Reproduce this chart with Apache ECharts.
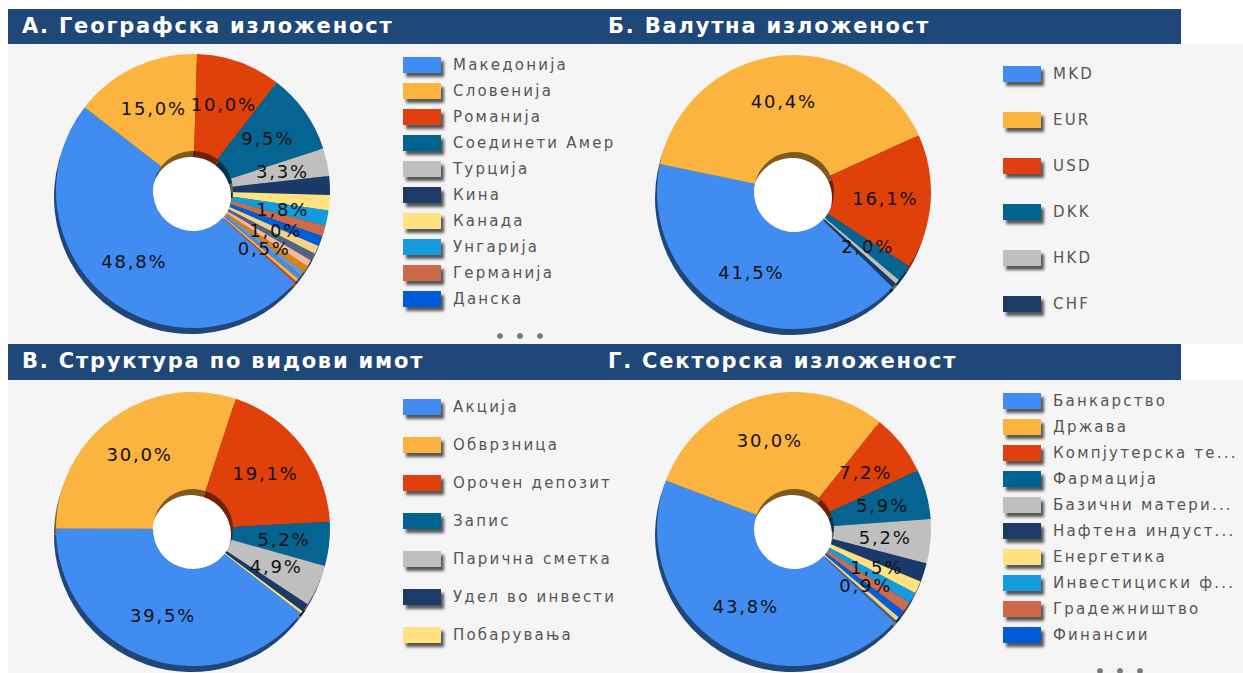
<!DOCTYPE html>
<html>
<head>
<meta charset="utf-8">
<script src="https://cdn.jsdelivr.net/npm/echarts@6/dist/echarts.min.js"></script>
<style>
  html, body { margin: 0; padding: 0; background: #fff; }
  #chart { width: 1243px; height: 673px; }
  /* GDI-like wide text spacing */
  #chart text[fill="#555"] { letter-spacing: 2.2px; }
  #chart text[fill="#111"] { letter-spacing: 1.8px; }
  #chart text[fill="#fff"] { letter-spacing: 1.8px; }
</style>
</head>
<body>
<div id="chart"></div>
<script>
// А. Географска изложеност (%)
const geoNames = ['Македонија', 'Словенија', 'Романија', 'Соединети Американски Држави', 'Турција', 'Кина',
  'Канада', 'Унгарија', 'Германија', 'Данска', 'Хрватска', 'Србија', 'Австрија', 'Бугарија', 'Грција',
  'Швајцарија', 'Холандија', 'Полска'];
const geoValues = [48.8, 15.0, 10.0, 9.5, 3.3, 2.2, 1.8, 1.8, 1.3, 1.2, 1.0, 0.9, 0.8, 0.7, 0.6, 0.5, 0.4, 0.2];

// Б. Валутна изложеност (%)
const curNames = ['MKD', 'EUR', 'USD', 'DKK', 'HKD', 'CHF'];
const curValues = [41.5, 40.4, 16.1, 2.0, 0.03, 0.01];

// В. Структура по видови имот (%)
const assetNames = ['Акција', 'Обврзница', 'Орочен депозит', 'Запис', 'Парична сметка',
  'Удел во инвестициски фондови', 'Побарувања'];
const assetValues = [39.5, 30.0, 19.1, 5.2, 4.9, 1.0, 0.3];

// Г. Секторска изложеност (%)
const sectorNames = ['Банкарство', 'Држава', 'Компјутерска технологија', 'Фармација', 'Базични материјали',
  'Нафтена индустрија', 'Енергетика', 'Инвестициски фондови', 'Градежништво', 'Финансии',
  'Осигурување', 'Телекомуникации'];
const sectorValues = [43.8, 30.0, 7.2, 5.9, 5.2, 2.2, 1.5, 1.3, 1.2, 0.9, 0.5, 0.3];

const titles = ['А. Географска изложеност', 'Б. Валутна изложеност', 'В. Структура по видови имот', 'Г. Секторска изложеност'];

const palette = ['#418CF0', '#FCB441', '#E0400A', '#056492', '#BFBFBF', '#1A3B69', '#FFE382', '#129CDD',
  '#CA6B4B', '#005CDB', '#F3D288', '#506381', '#F1B9A8', '#E0830A', '#7893BE'];

function darken(hex, k) {
  const n = parseInt(hex.slice(1), 16);
  const r = Math.round(((n >> 16) & 255) * k);
  const g = Math.round(((n >> 8) & 255) * k);
  const b = Math.round((n & 255) * k);
  return 'rgb(' + r + ',' + g + ',' + b + ')';
}

const R_IN = 40, R_OUT = 137;
const FONT = 'DejaVu Sans';
const LEGEND_SPACING = 2.2;

// legend names get clipped like the original control does
const measureCtx = document.createElement('canvas').getContext('2d');
function fitText(text, maxW, ellipsis) {
  measureCtx.font = '15px "DejaVu Sans"';
  const w = s => measureCtx.measureText(s).width + LEGEND_SPACING * s.length;
  if (w(text) <= maxW) return text;
  let s = text;
  while (s.length && w(s + ellipsis) > maxW) s = s.slice(0, -1);
  return s + ellipsis;
}

// top face + darker copy shifted down for the 3D rim
function donut(names, values, cx, cy, startAngle, minAngle) {
  const top = {
    type: 'pie',
    center: [cx, cy],
    radius: [R_IN, R_OUT],
    startAngle: startAngle,
    minAngle: minAngle || 0,
    avoidLabelOverlap: false,
    silent: true,
    z: 3,
    data: names.map((n, i) => ({ name: n, value: values[i], itemStyle: { color: palette[i % palette.length] } })),
    label: {
      show: true,
      position: 'inside',
      color: '#111',
      fontSize: 18,
      fontFamily: FONT,
      formatter: p => p.value.toFixed(1).replace('.', ',') + '%'
    },
    labelLine: { show: false },
    emphasis: { disabled: true }
  };
  const side = {
    type: 'pie',
    center: [cx - 2, cy + 6],
    radius: [R_IN, R_OUT],
    startAngle: startAngle,
    minAngle: minAngle || 0,
    silent: true,
    z: 2,
    data: names.map((n, i) => ({ name: n, value: values[i], itemStyle: { color: darken(palette[i % palette.length], 0.5) } })),
    label: { show: false },
    labelLine: { show: false },
    emphasis: { disabled: true }
  };
  return [top, side];
}

function legend(names, left, top, gap, maxW, ellipsis) {
  return {
    orient: 'vertical',
    left: left,
    top: top,
    padding: 0,
    icon: 'rect',
    itemWidth: 38,
    itemHeight: 16,
    itemGap: gap,
    selectedMode: false,
    data: names,
    formatter: name => fitText(name, maxW, ellipsis),
    itemStyle: { shadowColor: 'rgba(0,0,0,0.65)', shadowBlur: 3, shadowOffsetX: 3, shadowOffsetY: 4 },
    textStyle: {
      color: '#555',
      fontSize: 15,
      fontFamily: FONT,
      padding: [0, 0, 0, 7]
    }
  };
}

const centers = [[193, 191], [794, 192], [193, 529], [794, 529]];

const chart = echarts.init(document.getElementById('chart'), null, { renderer: 'svg' });

const graphic = [
  { type: 'rect', z: 0, shape: { x: 8, y: 44, width: 1235, height: 300 }, style: { fill: '#f5f5f5' } },
  { type: 'rect', z: 0, shape: { x: 8, y: 380, width: 1235, height: 293 }, style: { fill: '#f5f5f5' } },
  { type: 'rect', z: 0, shape: { x: 8, y: 9, width: 1173, height: 35 }, style: { fill: '#1f4778' } },
  { type: 'rect', z: 0, shape: { x: 8, y: 344, width: 1173, height: 36 }, style: { fill: '#1f4778' } }
];
centers.forEach(c => {
  graphic.push({ type: 'circle', z: 1, shape: { cx: c[0], cy: c[1], r: R_IN }, style: { fill: '#ffffff' } });
});
[500, 520, 540].forEach(x => graphic.push({ type: 'circle', z: 1, shape: { cx: x, cy: 336, r: 3 }, style: { fill: '#7a7a7a' } }));
[1100, 1120, 1140].forEach(x => graphic.push({ type: 'circle', z: 1, shape: { cx: x, cy: 671, r: 3 }, style: { fill: '#7a7a7a' } }));

const titleStyle = { color: '#fff', fontSize: 21, fontWeight: 'bold', fontFamily: FONT };

chart.setOption({
  animation: false,
  graphic: graphic,
  title: [
    { text: titles[0], left: 22, top: 15, padding: 0, textStyle: titleStyle },
    { text: titles[1], left: 608, top: 15, padding: 0, textStyle: titleStyle },
    { text: titles[2], left: 22, top: 350, padding: 0, textStyle: titleStyle },
    { text: titles[3], left: 608, top: 350, padding: 0, textStyle: titleStyle }
  ],
  legend: [
    legend(geoNames.slice(0, 10), 403, 57, 10, 166, ''),
    legend(curNames, 1003, 66, 30, 200, ''),
    legend(assetNames, 403, 399, 22, 166, ''),
    legend(sectorNames.slice(0, 10), 1003, 393, 10, 186, '...')
  ],
  series: [
    ...donut(geoNames, geoValues, centers[0][0], centers[0][1], 318),
    ...donut(curNames, curValues, centers[1][0], centers[1][1], 316, 2),
    ...donut(assetNames, assetValues, centers[2][0], centers[2][1], 322),
    ...donut(sectorNames, sectorValues, centers[3][0], centers[3][1], 317)
  ]
});
</script>
</body>
</html>
